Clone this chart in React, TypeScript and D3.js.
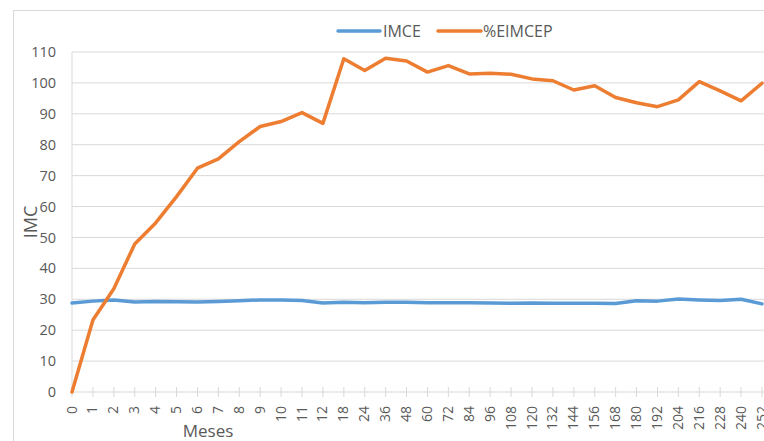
import React from "react";
import * as d3 from "d3";

const months = [
  "0", "1", "2", "3", "4", "5", "6", "7", "8", "9", "10", "11", "12",
  "18", "24", "36", "48", "60", "72", "84", "96", "108", "120", "132",
  "144", "156", "168", "180", "192", "204", "216", "228", "240", "252",
];

const imce = [
  28.8, 29.4, 29.8, 29.1, 29.3, 29.2, 29.1, 29.3, 29.5, 29.8, 29.8, 29.6, 28.8,
  29.0, 28.9, 29.0, 29.0, 28.9, 28.9, 28.9, 28.8, 28.7, 28.8, 28.7,
  28.7, 28.7, 28.6, 29.5, 29.4, 30.1, 29.8, 29.6, 30.0, 28.5,
];

const eimcep = [
  0, 23.3, 33.4, 47.9, 54.7, 63.2, 72.4, 75.4, 81.0, 85.9, 87.5, 90.4, 86.9,
  107.8, 104.0, 108.0, 107.1, 103.5, 105.6, 102.9, 103.1, 102.8, 101.3, 100.7,
  97.7, 99.1, 95.3, 93.6, 92.3, 94.5, 100.4, 97.4, 94.2, 99.9,
];

const yTicks = [0, 10, 20, 30, 40, 50, 60, 70, 80, 90, 100, 110];

const series = [
  { name: "IMCE", values: imce, color: "#5B9BD5" },
  { name: "%EIMCEP", values: eimcep, color: "#ED7D31" },
];

const W = 764;
const H = 441;
const FONT = "'Open Sans', 'Liberation Sans', sans-serif";
const TEXT = "#595959";
const GRID = "#d9d9d9";

export default function App() {
  const x = d3.scalePoint<string>().domain(months).range([72, 762]).padding(0);
  const y = d3.scaleLinear().domain([0, 110]).range([392, 52]);

  const line = d3
    .line<number>()
    .x((_, i) => x(months[i])!)
    .y((d) => y(d));

  return (
    <svg
      width={W}
      height={H}
      style={{ position: "absolute", left: 0, top: 0, background: "#fff" }}
      fontFamily={FONT}
    >
      <rect x={13.5} y={10.5} width={W} height={H} fill="#fff" stroke={GRID} />

      {/* gridlines */}
      {yTicks.map((t) => (
        <line key={t} x1={72} x2={W} y1={y(t)} y2={y(t)} stroke={GRID} strokeWidth={1} />
      ))}
      <line x1={72} x2={72} y1={y(110)} y2={y(0)} stroke={GRID} />

      {/* y tick labels */}
      {yTicks.map((t) => (
        <text
          key={t}
          x={56}
          y={y(t)}
          dy="0.35em"
          textAnchor="end"
          fontSize={14.5}
          fill={TEXT}
        >
          {t}
        </text>
      ))}

      {/* x axis ticks and labels (last one is clipped by the frame, as in the source) */}
      {months.map((m) => (
        <g key={m} transform={`translate(${x(m)},0)`}>
          <line y1={y(0) - 5} y2={y(0) + 5} stroke={GRID} />
          <text
            transform={`translate(4.5,${y(0) + 14}) rotate(-90)`}
            textAnchor="end"
            fontSize={14}
            fill={TEXT}
          >
            {m}
          </text>
        </g>
      ))}

      {/* lines */}
      {series.map((s) => (
        <path
          key={s.name}
          d={line(s.values)!}
          fill="none"
          stroke={s.color}
          strokeWidth={3.5}
          strokeLinejoin="round"
          strokeLinecap="round"
        />
      ))}

      {/* axis titles */}
      <text x={208} y={437} textAnchor="middle" fontSize={17} fill={TEXT}>
        Meses
      </text>
      <text
        transform="translate(37,222) rotate(-90)"
        textAnchor="middle"
        fontSize={18}
        fill={TEXT}
      >
        IMC
      </text>

      {/* legend */}
      <line x1={338} x2={380} y1={31} y2={31} stroke={series[0].color} strokeWidth={3.5} strokeLinecap="round" />
      <text x={383} y={31} dy="0.35em" fontSize={16} fill={TEXT}>
        {series[0].name}
      </text>
      <line x1={438} x2={481} y1={31} y2={31} stroke={series[1].color} strokeWidth={3.5} strokeLinecap="round" />
      <text x={483} y={31} dy="0.35em" fontSize={16} fill={TEXT}>
        {series[1].name}
      </text>
    </svg>
  );
}
